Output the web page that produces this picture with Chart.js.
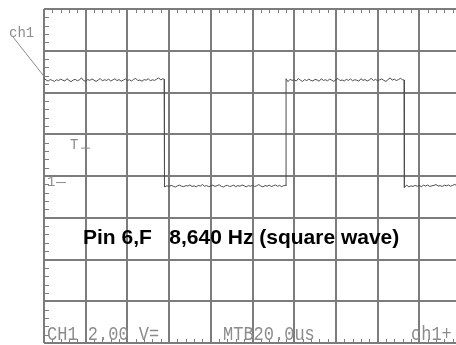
<!DOCTYPE html>
<html>
<head>
<meta charset="utf-8">
<script src="https://cdn.jsdelivr.net/npm/chart.js@4.4.1/dist/chart.umd.min.js"></script>
<style>
  html, body { margin: 0; padding: 0; background: #fff; overflow: hidden; }
  #wrap { width: 456px; height: 345px; overflow: hidden; }
</style>
</head>
<body>
<div id="wrap"><canvas id="scope" width="470" height="350"></canvas></div>
<script>
// ch1 capture, 20 us/div, 2 V/div (screen volts, centre line = 0)
const sampleTimes = [
  0, 1, 2, 3, 4, 5, 6, 7, 8, 9,
  10, 11, 12, 13, 14, 15, 16, 17, 18, 19,
  20, 21, 22, 23, 24, 25, 26, 27, 28, 29,
  30, 31, 32, 33, 34, 35, 36, 37, 38, 39,
  40, 41, 42, 43, 44, 45, 46, 47, 48, 49,
  50, 51, 52, 53, 54, 55, 56, 57,
  57.6, 57.6,
  58, 59,
  60, 61, 62, 63, 64, 65, 66, 67, 68, 69,
  70, 71, 72, 73, 74, 75, 76, 77, 78, 79,
  80, 81, 82, 83, 84, 85, 86, 87, 88, 89,
  90, 91, 92, 93, 94, 95, 96, 97, 98, 99,
  100, 101, 102, 103, 104, 105, 106, 107, 108, 109,
  110, 111, 112, 113, 114, 115, 116,
  116.1, 116.1,
  117, 118, 119,
  120, 121, 122, 123, 124, 125, 126, 127, 128, 129,
  130, 131, 132, 133, 134, 135, 136, 137, 138, 139,
  140, 141, 142, 143, 144, 145, 146, 147, 148, 149,
  150, 151, 152, 153, 154, 155, 156, 157, 158, 159,
  160, 161, 162, 163, 164, 165, 166, 167, 168, 169,
  170, 171, 172,
  172.7, 172.7,
  173, 174, 175, 176, 177, 178, 179,
  180, 181, 182, 183, 184, 185, 186, 187, 188, 189,
  190, 191, 192, 193, 194, 195, 196, 197, 198, 199,
  200
];

const ch1Volts = [
  4.68, 4.60, 4.55, 4.62, 4.58, 4.53, 4.61, 4.57, 4.64, 4.59,
  4.55, 4.66, 4.58, 4.52, 4.60, 4.63, 4.56, 4.61, 4.70, 4.57,
  4.54, 4.62, 4.58, 4.65, 4.59, 4.53, 4.60, 4.67, 4.56, 4.61,
  4.58, 4.64, 4.55, 4.60, 4.66, 4.57, 4.62, 4.54, 4.59, 4.65,
  4.58, 4.61, 4.55, 4.63, 4.68, 4.57, 4.60, 4.54, 4.62, 4.59,
  4.66, 4.56, 4.61, 4.58, 4.64, 4.70, 4.60, 4.66,
  4.63, -0.44,
  -0.52, -0.47,
  -0.50, -0.45, -0.49, -0.53, -0.47, -0.44, -0.49, -0.51, -0.46, -0.48,
  -0.43, -0.50, -0.47, -0.52, -0.45, -0.48, -0.41, -0.49, -0.46, -0.51,
  -0.47, -0.44, -0.50, -0.46, -0.42, -0.49, -0.53, -0.47, -0.45, -0.50,
  -0.48, -0.44, -0.51, -0.46, -0.49, -0.43, -0.47, -0.52, -0.46, -0.49,
  -0.45, -0.50, -0.47, -0.41, -0.48, -0.52, -0.46, -0.49, -0.44, -0.50,
  -0.47, -0.43, -0.49, -0.45, -0.51, -0.46, -0.44,
  -0.47, 4.66,
  4.52, 4.63, 4.58,
  4.61, 4.55, 4.67, 4.59, 4.53, 4.62, 4.57, 4.64, 4.58, 4.55,
  4.63, 4.60, 4.54, 4.66, 4.58, 4.61, 4.56, 4.64, 4.59, 4.53,
  4.62, 4.67, 4.57, 4.60, 4.55, 4.63, 4.58, 4.65, 4.56, 4.61,
  4.59, 4.54, 4.66, 4.58, 4.62, 4.55, 4.60, 4.68, 4.57, 4.63,
  4.56, 4.61, 4.65, 4.58, 4.53, 4.62, 4.70, 4.59, 4.64, 4.57,
  4.62, 4.68, 4.61,
  4.60, -0.50,
  -0.55, -0.44, -0.52, -0.47, -0.50, -0.45, -0.49,
  -0.46, -0.51, -0.44, -0.48, -0.43, -0.50, -0.47, -0.45, -0.41, -0.48,
  -0.46, -0.50, -0.44, -0.47, -0.43, -0.49, -0.45, -0.40, -0.47, -0.44,
  -0.46
];

const groundLevel = -0.29;   // "1" marker
const triggerLevel = 1.36;   // "T" marker
const captionText = 'Pin 6,F   8,640 Hz (square wave)';
const statusLeft = 'CH1 2.00 V=';
const statusMid = 'MTB20.0us';
const statusRight = 'ch1+';

const gridColor = '#7c7c7c';
const labelColor = '#8c8c8c';

// minor ticks on the graticule border, labels and markers
const scopeDecor = {
  id: 'scopeDecor',
  afterDraw(chart) {
    const ctx = chart.ctx;
    const xs = chart.scales.x, ys = chart.scales.y;
    const a = chart.chartArea;
    ctx.save();
    ctx.strokeStyle = gridColor;
    ctx.lineWidth = 1;
    ctx.beginPath();
    for (let k = 0; k <= 50; k++) {
      if (k % 5 === 0) continue;
      const px = Math.round(xs.getPixelForValue(k * 4)) + 0.5;
      ctx.moveTo(px, a.top); ctx.lineTo(px, a.top + 4);
      ctx.moveTo(px, a.bottom - 4); ctx.lineTo(px, a.bottom);
    }
    for (let k = 0; k <= 40; k++) {
      if (k % 5 === 0) continue;
      const py = Math.round(ys.getPixelForValue(-8 + k * 0.4)) + 0.5;
      ctx.moveTo(a.left, py); ctx.lineTo(a.left + 5, py);
    }
    ctx.stroke();

    // channel tag and its leader to the trace start
    ctx.fillStyle = labelColor;
    ctx.strokeStyle = labelColor;
    ctx.font = '14px "Liberation Mono"';
    ctx.textBaseline = 'alphabetic';
    ctx.fillText('ch1', 9, 37);
    ctx.beginPath();
    ctx.moveTo(13, 37);
    ctx.lineTo(xs.getPixelForValue(0), ys.getPixelForValue(ch1Volts[0]) - 2);
    ctx.stroke();

    // trigger and ground markers
    const ty = ys.getPixelForValue(triggerLevel);
    ctx.font = '14px "Liberation Mono"';
    ctx.fillText('T', 70, ty + 1);
    ctx.beginPath();
    ctx.moveTo(81, ty + 0.5); ctx.lineTo(90, ty + 0.5);
    ctx.stroke();
    const gy = ys.getPixelForValue(groundLevel);
    ctx.fillText('1', 47, gy + 4);
    ctx.beginPath();
    ctx.moveTo(56, gy + 0.5); ctx.lineTo(66, gy + 0.5);
    ctx.stroke();

    // status line
    ctx.save();
    ctx.translate(0, 340);
    ctx.scale(1, 1.2);
    ctx.font = '17px "Liberation Mono"';
    ctx.fillText(statusLeft, 47, 0);
    ctx.fillText(statusMid, 223, 0);
    ctx.fillText(statusRight, 411, 0);
    ctx.restore();

    // caption
    ctx.fillStyle = '#000';
    ctx.font = 'bold 21px "Liberation Sans"';
    ctx.fillText(captionText, 83, 244);
    ctx.restore();
  }
};

new Chart(document.getElementById('scope').getContext('2d'), {
  type: 'line',
  data: {
    datasets: [{
      data: sampleTimes.map((t, i) => ({ x: t, y: ch1Volts[i] })),
      borderColor: '#4d4d4d',
      borderWidth: 1,
      pointRadius: 0,
      tension: 0
    }]
  },
  options: {
    responsive: false,
    animation: false,
    events: [],
    layout: { padding: { left: 44, top: 9, right: 9, bottom: 7 } },
    plugins: { legend: { display: false }, tooltip: { enabled: false } },
    scales: {
      x: {
        type: 'linear',
        min: 0,
        max: 200,
        ticks: { stepSize: 20, display: false },
        grid: { color: gridColor, lineWidth: 2, drawTicks: false },
        border: { display: false }
      },
      y: {
        min: -8,
        max: 8,
        ticks: { stepSize: 2, display: false },
        grid: { color: gridColor, lineWidth: 2, drawTicks: false },
        border: { display: false }
      }
    }
  },
  plugins: [scopeDecor]
});
</script>
</body>
</html>
